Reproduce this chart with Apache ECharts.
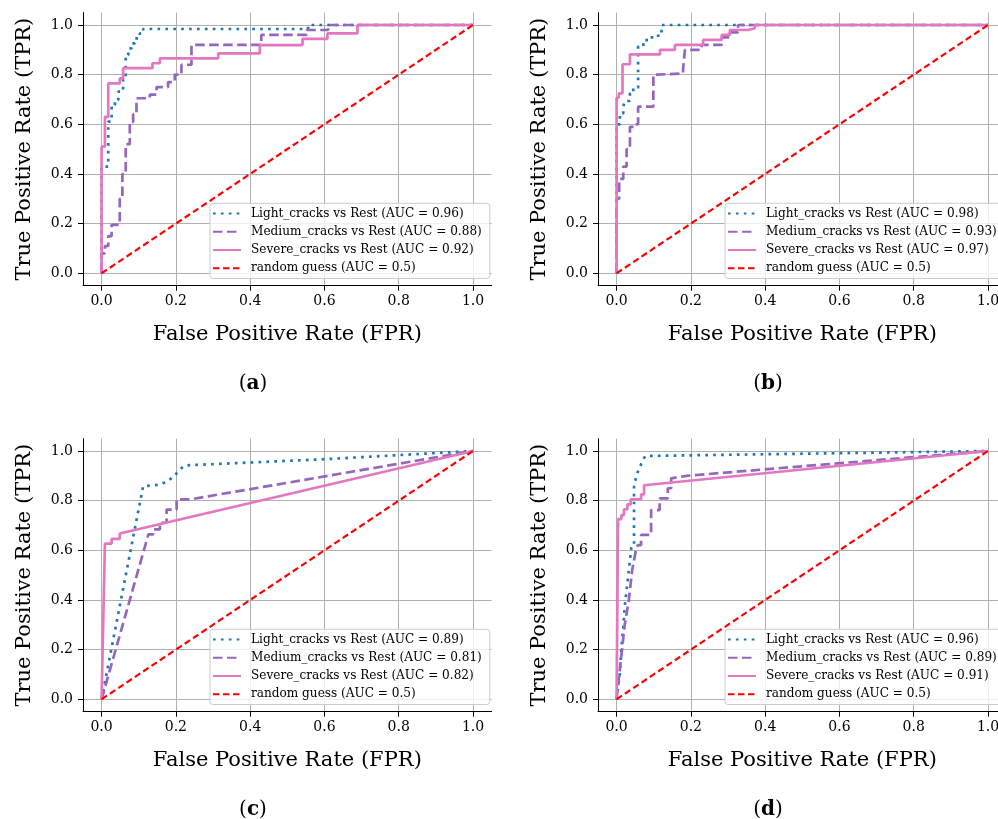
<!DOCTYPE html>
<html><head><meta charset="utf-8">
<script src="https://cdn.jsdelivr.net/npm/echarts@6.0.0/dist/echarts.min.js"></script>
<style>html,body{margin:0;padding:0;background:#fff}#c{width:998px;height:819px}</style>
</head><body><div id="c"></div>
<script>
// ---------- data ----------
const classNames = ['Light_cracks', 'Medium_cracks', 'Severe_cracks'];
const panelLabels = ['a', 'b', 'c', 'd'];
const aucA = [0.96, 0.88, 0.92];
const aucB = [0.98, 0.93, 0.97];
const aucC = [0.89, 0.81, 0.82];
const aucD = [0.96, 0.89, 0.91];
const randomAuc = '0.5';
const tickValues = [0, 0.2, 0.4, 0.6, 0.8, 1.0];
const randomLine = [[0, 0], [1, 1]];

const lightA = [[0,0],[0,0.43],[0.018,0.43],[0.018,0.611],[0.027,0.611],[0.027,0.678],[0.036,0.678],[0.036,0.698],[0.045,0.698],[0.045,0.732],[0.058,0.732],[0.058,0.779],[0.065,0.779],[0.065,0.879],[0.072,0.879],[0.072,0.906],[0.081,0.906],[0.081,0.926],[0.09,0.926],[0.09,0.946],[0.103,0.946],[0.103,0.966],[0.112,0.966],[0.112,0.984],[0.556,0.984],[0.556,1],[1,1]];
const mediumA = [[0,0],[0,0.08],[0.009,0.08],[0.009,0.11],[0.018,0.11],[0.018,0.15],[0.027,0.15],[0.027,0.195],[0.049,0.195],[0.049,0.30],[0.056,0.30],[0.056,0.40],[0.065,0.40],[0.065,0.52],[0.076,0.52],[0.076,0.61],[0.085,0.61],[0.085,0.64],[0.094,0.64],[0.094,0.705],[0.13,0.705],[0.13,0.72],[0.148,0.72],[0.148,0.75],[0.179,0.75],[0.179,0.77],[0.197,0.77],[0.197,0.80],[0.215,0.80],[0.215,0.84],[0.242,0.84],[0.242,0.92],[0.43,0.92],[0.43,0.96],[0.552,0.96],[0.552,0.98],[0.61,0.98],[0.61,1],[1,1]];
const severeA = [[0,0],[0,0.51],[0.009,0.51],[0.009,0.63],[0.018,0.63],[0.018,0.765],[0.049,0.765],[0.049,0.785],[0.058,0.785],[0.058,0.826],[0.137,0.826],[0.137,0.846],[0.157,0.846],[0.157,0.866],[0.314,0.866],[0.314,0.886],[0.426,0.886],[0.426,0.919],[0.541,0.919],[0.541,0.944],[0.608,0.944],[0.608,0.966],[0.689,0.966],[0.689,1],[1,1]];

const lightB = [[0,0],[0,0.60],[0.009,0.60],[0.009,0.644],[0.018,0.644],[0.018,0.671],[0.022,0.671],[0.022,0.694],[0.036,0.694],[0.036,0.725],[0.045,0.725],[0.045,0.748],[0.058,0.748],[0.058,0.913],[0.072,0.913],[0.072,0.93],[0.081,0.93],[0.081,0.95],[0.112,0.95],[0.112,0.965],[0.121,0.965],[0.121,1],[1,1]];
const mediumB = [[0,0],[0,0.30],[0.007,0.30],[0.007,0.38],[0.018,0.38],[0.018,0.43],[0.027,0.43],[0.027,0.50],[0.036,0.50],[0.036,0.59],[0.049,0.59],[0.049,0.60],[0.058,0.60],[0.058,0.671],[0.099,0.671],[0.099,0.80],[0.108,0.80],[0.108,0.805],[0.179,0.805],[0.179,0.82],[0.184,0.82],[0.184,0.90],[0.229,0.90],[0.229,0.92],[0.283,0.92],[0.283,0.95],[0.305,0.95],[0.305,0.97],[0.327,0.97],[0.327,1],[1,1]];
const severeB = [[0,0],[0,0.707],[0.006,0.707],[0.006,0.725],[0.016,0.725],[0.016,0.842],[0.036,0.842],[0.036,0.882],[0.117,0.882],[0.117,0.90],[0.157,0.90],[0.157,0.92],[0.233,0.92],[0.233,0.94],[0.283,0.94],[0.283,0.96],[0.305,0.96],[0.305,0.98],[0.354,0.98],[0.354,0.987],[0.372,0.987],[0.372,1],[1,1]];

const lightC = [[0,0],[0.112,0.859],[0.135,0.861],[0.157,0.865],[0.179,0.879],[0.197,0.902],[0.211,0.926],[0.224,0.942],[0.6,0.967],[1,1]];
const mediumC = [[0,0],[0.126,0.664],[0.139,0.664],[0.139,0.684],[0.157,0.684],[0.157,0.711],[0.175,0.711],[0.175,0.764],[0.202,0.764],[0.202,0.805],[0.238,0.805],[1,1]];
const severeC = [[0,0],[0.009,0.627],[0.027,0.627],[0.027,0.646],[0.049,0.646],[0.049,0.668],[1,1]];

const lightD = [[0,0],[0.009,0.105],[0.013,0.21],[0.018,0.29],[0.022,0.374],[0.027,0.44],[0.031,0.495],[0.036,0.56],[0.04,0.616],[0.047,0.62],[0.047,0.856],[0.05,0.88],[0.058,0.92],[0.067,0.95],[0.077,0.98],[1,1]];
const mediumD = [[0,0],[0.011,0.15],[0.022,0.30],[0.033,0.40],[0.042,0.52],[0.052,0.60],[0.057,0.621],[0.066,0.621],[0.066,0.662],[0.093,0.662],[0.093,0.762],[0.116,0.762],[0.116,0.809],[0.138,0.809],[0.138,0.85],[0.147,0.85],[0.147,0.89],[0.188,0.90],[1,1]];
const severeD = [[0,0],[0.004,0.726],[0.013,0.726],[0.013,0.742],[0.02,0.742],[0.02,0.765],[0.029,0.765],[0.029,0.785],[0.038,0.785],[0.038,0.805],[0.066,0.805],[0.066,0.825],[0.074,0.825],[0.074,0.862],[1,1]];

// ---------- layout / style ----------
const FONT = 'DejaVu Serif';
const panels = [
  {auc: aucA, curves: [lightA, mediumA, severeA], left: 83, top: 12.6},
  {auc: aucB, curves: [lightB, mediumB, severeB], left: 598, top: 12.6},
  {auc: aucC, curves: [lightC, mediumC, severeC], left: 83, top: 438.6},
  {auc: aucD, curves: [lightD, mediumD, severeD], left: 598, top: 438.6}
];
const GW = 408.6, GH = 273.1;
const lineStyles = [
  {color: '#1f77b4', type: [2.7, 5.2], width: 2.7},
  {color: '#9467bd', type: [9.5, 4.5], width: 2.7},
  {color: '#e377c2', type: 'solid', width: 2.7},
  {color: '#ff0000', type: [6.5, 3.5], width: 2.2}
];

const grid = [], xAxis = [], yAxis = [], series = [], legend = [], graphic = [];
panels.forEach((p, i) => {
  grid.push({left: p.left, top: p.top, width: GW, height: GH, outerBoundsMode: 'none', containLabel: false});
  const axisCommon = {
    type: 'value', gridIndex: i, min: -0.05, max: 1.05,
    axisLine: {show: true, onZero: false, lineStyle: {color: '#000', width: 1}},
    axisTick: {show: true, customValues: tickValues, length: 5, lineStyle: {color: '#000', width: 1}},
    axisLabel: {customValues: tickValues, formatter: v => v.toFixed(1), fontFamily: FONT, fontSize: 14, color: '#000'},
    splitLine: {show: true, lineStyle: {color: '#b0b0b0', width: 1}},
    nameLocation: 'middle', nameMoveOverlap: false,
    nameTextStyle: {fontFamily: FONT, fontSize: 21, color: '#000'}
  };
  xAxis.push(Object.assign({}, axisCommon, {
    name: 'False Positive Rate (FPR)', nameGap: 38,
    axisLabel: Object.assign({}, axisCommon.axisLabel, {margin: 9})
  }));
  yAxis.push(Object.assign({}, axisCommon, {
    name: 'True Positive Rate (TPR)', nameGap: 48, nameRotate: 90,
    axisLabel: Object.assign({}, axisCommon.axisLabel, {margin: 10})
  }));
  const names = [];
  p.curves.forEach((data, k) => {
    const nm = classNames[k] + ' vs Rest (AUC = ' + p.auc[k].toFixed(2) + ')';
    names.push(nm);
    series.push({
      type: 'line', name: nm, xAxisIndex: i, yAxisIndex: i, data: data,
      symbol: 'none', showSymbol: false, animation: false,
      lineStyle: lineStyles[k], itemStyle: {color: lineStyles[k].color}, z: 3 + k
    });
  });
  const rn = 'random guess (AUC = ' + randomAuc + ')';
  names.push(rn);
  series.push({
    type: 'line', name: rn, xAxisIndex: i, yAxisIndex: i, data: randomLine,
    symbol: 'none', showSymbol: false, animation: false,
    lineStyle: lineStyles[3], itemStyle: {color: lineStyles[3].color}, z: 7
  });
  legend.push({
    orient: 'vertical', left: p.left + 127, top: p.top + 190.7, data: names,
    itemWidth: 28, itemHeight: 14, itemGap: 4.2, padding: [3.3, 8, 3.3, 2],
    backgroundColor: 'rgba(255,255,255,0.8)', borderColor: '#cccccc', borderWidth: 1, borderRadius: 3,
    selectedMode: false,
    itemStyle: {opacity: 0},
    textStyle: {fontFamily: FONT, fontSize: 12.1, color: '#000', lineHeight: 14, padding: [0, 0, 0, 5]}
  });
  graphic.push({
    type: 'text', x: p.left + 170, y: p.top + 371.4,
    style: {
      text: '{n|(}{b|' + panelLabels[i] + '}{n|)}',
      rich: {
        n: {fontFamily: FONT, fontSize: 20, fill: '#000'},
        b: {fontFamily: FONT, fontSize: 20, fontWeight: 'bold', fill: '#000'}
      },
      align: 'center', verticalAlign: 'middle'
    }
  });
});

const chart = echarts.init(document.getElementById('c'), null, {renderer: 'canvas'});
chart.setOption({
  animation: false,
  backgroundColor: '#ffffff',
  grid, xAxis, yAxis, series, legend, graphic
});
</script>
</body></html>
